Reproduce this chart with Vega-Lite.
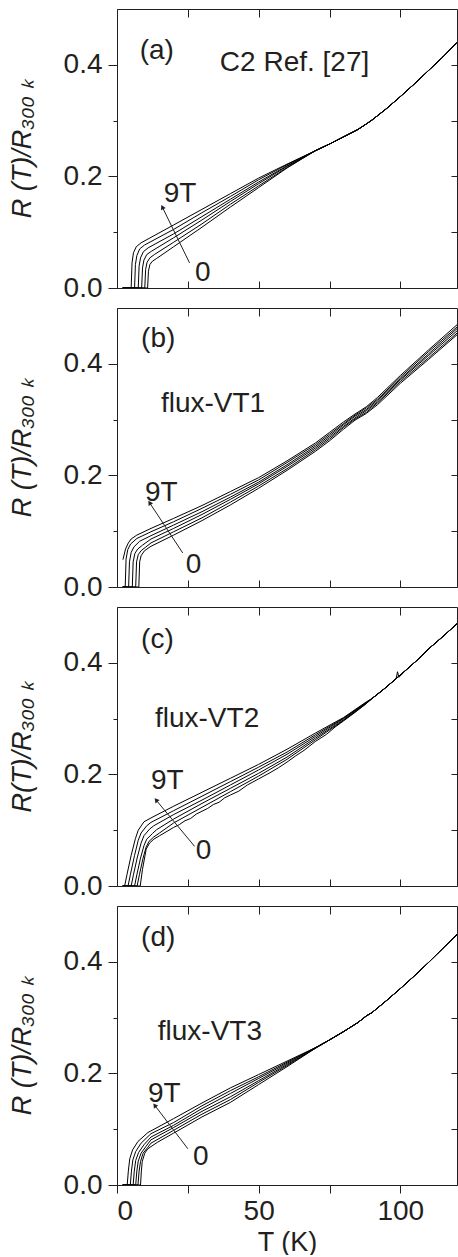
{
"$schema": "https://vega.github.io/schema/vega-lite/v6.json",
"padding": {"left": 8, "top": 8, "right": 0, "bottom": 0},
"spacing": 5,
"datasets": {
"curves": [
{"p":"a","B":0,"T":2,"R":0},{"p":"a","B":0,"T":10.8,"R":0},{"p":"a","B":0,"T":11.1,"R":0.03},{"p":"a","B":0,"T":11.6,"R":0.042},{"p":"a","B":0,"T":12.5,"R":0.048},{"p":"a","B":0,"T":14,"R":0.053},{"p":"a","B":0,"T":20,"R":0.074},{"p":"a","B":0,"T":30,"R":0.109},{"p":"a","B":0,"T":40,"R":0.145},{"p":"a","B":0,"T":50,"R":0.18},{"p":"a","B":0,"T":60,"R":0.215},{"p":"a","B":0,"T":70,"R":0.246},{"p":"a","B":0,"T":75,"R":0.258},{"p":"a","B":0,"T":80,"R":0.271},{"p":"a","B":0,"T":85,"R":0.284},{"p":"a","B":0,"T":88,"R":0.294},{"p":"a","B":0,"T":90,"R":0.301},{"p":"a","B":0,"T":95,"R":0.321},{"p":"a","B":0,"T":100,"R":0.343},{"p":"a","B":0,"T":105,"R":0.366},{"p":"a","B":0,"T":110,"R":0.39},{"p":"a","B":0,"T":115,"R":0.414},{"p":"a","B":0,"T":120,"R":0.44},
{"p":"a","B":1,"T":2,"R":0},{"p":"a","B":1,"T":9.8,"R":0},{"p":"a","B":1,"T":10.1,"R":0.033},{"p":"a","B":1,"T":10.6,"R":0.046},{"p":"a","B":1,"T":11.6,"R":0.054},{"p":"a","B":1,"T":13.2,"R":0.06},{"p":"a","B":1,"T":20,"R":0.082},{"p":"a","B":1,"T":30,"R":0.115},{"p":"a","B":1,"T":40,"R":0.15},{"p":"a","B":1,"T":50,"R":0.183},{"p":"a","B":1,"T":60,"R":0.216},{"p":"a","B":1,"T":70,"R":0.246},{"p":"a","B":1,"T":75,"R":0.258},{"p":"a","B":1,"T":80,"R":0.271},{"p":"a","B":1,"T":85,"R":0.284},{"p":"a","B":1,"T":88,"R":0.294},{"p":"a","B":1,"T":90,"R":0.301},{"p":"a","B":1,"T":95,"R":0.321},{"p":"a","B":1,"T":100,"R":0.343},{"p":"a","B":1,"T":105,"R":0.366},{"p":"a","B":1,"T":110,"R":0.39},{"p":"a","B":1,"T":115,"R":0.414},{"p":"a","B":1,"T":120,"R":0.44},
{"p":"a","B":3,"T":2,"R":0},{"p":"a","B":3,"T":8.7,"R":0},{"p":"a","B":3,"T":9,"R":0.036},{"p":"a","B":3,"T":9.5,"R":0.05},{"p":"a","B":3,"T":10.5,"R":0.06},{"p":"a","B":3,"T":12.2,"R":0.066},{"p":"a","B":3,"T":20,"R":0.09},{"p":"a","B":3,"T":30,"R":0.122},{"p":"a","B":3,"T":40,"R":0.155},{"p":"a","B":3,"T":50,"R":0.187},{"p":"a","B":3,"T":60,"R":0.218},{"p":"a","B":3,"T":70,"R":0.246},{"p":"a","B":3,"T":75,"R":0.258},{"p":"a","B":3,"T":80,"R":0.271},{"p":"a","B":3,"T":85,"R":0.284},{"p":"a","B":3,"T":88,"R":0.294},{"p":"a","B":3,"T":90,"R":0.301},{"p":"a","B":3,"T":95,"R":0.321},{"p":"a","B":3,"T":100,"R":0.343},{"p":"a","B":3,"T":105,"R":0.366},{"p":"a","B":3,"T":110,"R":0.39},{"p":"a","B":3,"T":115,"R":0.414},{"p":"a","B":3,"T":120,"R":0.44},
{"p":"a","B":5,"T":2,"R":0},{"p":"a","B":5,"T":7.5,"R":0},{"p":"a","B":5,"T":7.8,"R":0.039},{"p":"a","B":5,"T":8.3,"R":0.054},{"p":"a","B":5,"T":9.3,"R":0.065},{"p":"a","B":5,"T":11,"R":0.072},{"p":"a","B":5,"T":20,"R":0.097},{"p":"a","B":5,"T":30,"R":0.128},{"p":"a","B":5,"T":40,"R":0.159},{"p":"a","B":5,"T":50,"R":0.19},{"p":"a","B":5,"T":60,"R":0.219},{"p":"a","B":5,"T":70,"R":0.246},{"p":"a","B":5,"T":75,"R":0.258},{"p":"a","B":5,"T":80,"R":0.271},{"p":"a","B":5,"T":85,"R":0.284},{"p":"a","B":5,"T":88,"R":0.294},{"p":"a","B":5,"T":90,"R":0.301},{"p":"a","B":5,"T":95,"R":0.321},{"p":"a","B":5,"T":100,"R":0.343},{"p":"a","B":5,"T":105,"R":0.366},{"p":"a","B":5,"T":110,"R":0.39},{"p":"a","B":5,"T":115,"R":0.414},{"p":"a","B":5,"T":120,"R":0.44},
{"p":"a","B":7,"T":2,"R":0},{"p":"a","B":7,"T":6.2,"R":0},{"p":"a","B":7,"T":6.5,"R":0.042},{"p":"a","B":7,"T":7,"R":0.058},{"p":"a","B":7,"T":8,"R":0.07},{"p":"a","B":7,"T":9.7,"R":0.077},{"p":"a","B":7,"T":20,"R":0.105},{"p":"a","B":7,"T":30,"R":0.135},{"p":"a","B":7,"T":40,"R":0.164},{"p":"a","B":7,"T":50,"R":0.194},{"p":"a","B":7,"T":60,"R":0.221},{"p":"a","B":7,"T":70,"R":0.246},{"p":"a","B":7,"T":75,"R":0.258},{"p":"a","B":7,"T":80,"R":0.271},{"p":"a","B":7,"T":85,"R":0.284},{"p":"a","B":7,"T":88,"R":0.294},{"p":"a","B":7,"T":90,"R":0.301},{"p":"a","B":7,"T":95,"R":0.321},{"p":"a","B":7,"T":100,"R":0.343},{"p":"a","B":7,"T":105,"R":0.366},{"p":"a","B":7,"T":110,"R":0.39},{"p":"a","B":7,"T":115,"R":0.414},{"p":"a","B":7,"T":120,"R":0.44},
{"p":"a","B":9,"T":2,"R":0},{"p":"a","B":9,"T":5,"R":0},{"p":"a","B":9,"T":5.3,"R":0.045},{"p":"a","B":9,"T":5.8,"R":0.063},{"p":"a","B":9,"T":6.8,"R":0.074},{"p":"a","B":9,"T":8.5,"R":0.081},{"p":"a","B":9,"T":20,"R":0.113},{"p":"a","B":9,"T":30,"R":0.141},{"p":"a","B":9,"T":40,"R":0.169},{"p":"a","B":9,"T":50,"R":0.197},{"p":"a","B":9,"T":60,"R":0.222},{"p":"a","B":9,"T":70,"R":0.246},{"p":"a","B":9,"T":75,"R":0.258},{"p":"a","B":9,"T":80,"R":0.271},{"p":"a","B":9,"T":85,"R":0.284},{"p":"a","B":9,"T":88,"R":0.294},{"p":"a","B":9,"T":90,"R":0.301},{"p":"a","B":9,"T":95,"R":0.321},{"p":"a","B":9,"T":100,"R":0.343},{"p":"a","B":9,"T":105,"R":0.366},{"p":"a","B":9,"T":110,"R":0.39},{"p":"a","B":9,"T":115,"R":0.414},{"p":"a","B":9,"T":120,"R":0.44},

{"p":"b","B":9,"T":2.1,"R":0.049},{"p":"b","B":9,"T":3,"R":0.068},{"p":"b","B":9,"T":4,"R":0.079},{"p":"b","B":9,"T":5,"R":0.086},{"p":"b","B":9,"T":7,"R":0.093},{"p":"b","B":9,"T":12,"R":0.105},{"p":"b","B":9,"T":20,"R":0.123},{"p":"b","B":9,"T":30,"R":0.146},{"p":"b","B":9,"T":40,"R":0.171},{"p":"b","B":9,"T":50,"R":0.196},{"p":"b","B":9,"T":60,"R":0.226},{"p":"b","B":9,"T":70,"R":0.258},{"p":"b","B":9,"T":75,"R":0.277},{"p":"b","B":9,"T":80,"R":0.296},{"p":"b","B":9,"T":84,"R":0.31},{"p":"b","B":9,"T":88,"R":0.323},{"p":"b","B":9,"T":92,"R":0.34},{"p":"b","B":9,"T":100,"R":0.379},{"p":"b","B":9,"T":110,"R":0.425},{"p":"b","B":9,"T":120,"R":0.47},
{"p":"b","B":7,"T":2,"R":0},{"p":"b","B":7,"T":2.9,"R":0},{"p":"b","B":7,"T":3.2,"R":0.05},{"p":"b","B":7,"T":3.8,"R":0.067},{"p":"b","B":7,"T":4.8,"R":0.077},{"p":"b","B":7,"T":7,"R":0.087},{"p":"b","B":7,"T":12,"R":0.099},{"p":"b","B":7,"T":20,"R":0.117},{"p":"b","B":7,"T":30,"R":0.141},{"p":"b","B":7,"T":40,"R":0.166},{"p":"b","B":7,"T":50,"R":0.192},{"p":"b","B":7,"T":60,"R":0.223},{"p":"b","B":7,"T":70,"R":0.255},{"p":"b","B":7,"T":75,"R":0.274},{"p":"b","B":7,"T":80,"R":0.293},{"p":"b","B":7,"T":84,"R":0.308},{"p":"b","B":7,"T":88,"R":0.321},{"p":"b","B":7,"T":92,"R":0.337},{"p":"b","B":7,"T":100,"R":0.376},{"p":"b","B":7,"T":110,"R":0.422},{"p":"b","B":7,"T":120,"R":0.466},
{"p":"b","B":5,"T":2,"R":0},{"p":"b","B":5,"T":4.1,"R":0},{"p":"b","B":5,"T":4.4,"R":0.045},{"p":"b","B":5,"T":5,"R":0.062},{"p":"b","B":5,"T":6,"R":0.072},{"p":"b","B":5,"T":8,"R":0.082},{"p":"b","B":5,"T":12,"R":0.092},{"p":"b","B":5,"T":20,"R":0.111},{"p":"b","B":5,"T":30,"R":0.135},{"p":"b","B":5,"T":40,"R":0.161},{"p":"b","B":5,"T":50,"R":0.188},{"p":"b","B":5,"T":60,"R":0.219},{"p":"b","B":5,"T":70,"R":0.252},{"p":"b","B":5,"T":75,"R":0.271},{"p":"b","B":5,"T":80,"R":0.291},{"p":"b","B":5,"T":84,"R":0.306},{"p":"b","B":5,"T":88,"R":0.318},{"p":"b","B":5,"T":92,"R":0.335},{"p":"b","B":5,"T":100,"R":0.373},{"p":"b","B":5,"T":110,"R":0.418},{"p":"b","B":5,"T":120,"R":0.463},
{"p":"b","B":3,"T":2,"R":0},{"p":"b","B":3,"T":5.4,"R":0},{"p":"b","B":3,"T":5.7,"R":0.045},{"p":"b","B":3,"T":6.3,"R":0.06},{"p":"b","B":3,"T":7.3,"R":0.068},{"p":"b","B":3,"T":9,"R":0.075},{"p":"b","B":3,"T":12,"R":0.086},{"p":"b","B":3,"T":20,"R":0.105},{"p":"b","B":3,"T":30,"R":0.13},{"p":"b","B":3,"T":40,"R":0.157},{"p":"b","B":3,"T":50,"R":0.185},{"p":"b","B":3,"T":60,"R":0.216},{"p":"b","B":3,"T":70,"R":0.249},{"p":"b","B":3,"T":75,"R":0.268},{"p":"b","B":3,"T":80,"R":0.288},{"p":"b","B":3,"T":84,"R":0.303},{"p":"b","B":3,"T":88,"R":0.316},{"p":"b","B":3,"T":92,"R":0.332},{"p":"b","B":3,"T":100,"R":0.371},{"p":"b","B":3,"T":110,"R":0.415},{"p":"b","B":3,"T":120,"R":0.459},
{"p":"b","B":1,"T":2,"R":0},{"p":"b","B":1,"T":6.6,"R":0},{"p":"b","B":1,"T":6.9,"R":0.045},{"p":"b","B":1,"T":7.5,"R":0.058},{"p":"b","B":1,"T":8.5,"R":0.065},{"p":"b","B":1,"T":10,"R":0.071},{"p":"b","B":1,"T":12,"R":0.079},{"p":"b","B":1,"T":20,"R":0.099},{"p":"b","B":1,"T":30,"R":0.124},{"p":"b","B":1,"T":40,"R":0.152},{"p":"b","B":1,"T":50,"R":0.181},{"p":"b","B":1,"T":60,"R":0.212},{"p":"b","B":1,"T":70,"R":0.246},{"p":"b","B":1,"T":75,"R":0.265},{"p":"b","B":1,"T":80,"R":0.286},{"p":"b","B":1,"T":84,"R":0.301},{"p":"b","B":1,"T":88,"R":0.313},{"p":"b","B":1,"T":92,"R":0.33},{"p":"b","B":1,"T":100,"R":0.368},{"p":"b","B":1,"T":110,"R":0.411},{"p":"b","B":1,"T":120,"R":0.455},
{"p":"b","B":0,"T":2,"R":0},{"p":"b","B":0,"T":7.7,"R":0},{"p":"b","B":0,"T":8,"R":0.045},{"p":"b","B":0,"T":8.5,"R":0.056},{"p":"b","B":0,"T":9.7,"R":0.065},{"p":"b","B":0,"T":12,"R":0.073},{"p":"b","B":0,"T":20,"R":0.093},{"p":"b","B":0,"T":30,"R":0.119},{"p":"b","B":0,"T":40,"R":0.147},{"p":"b","B":0,"T":50,"R":0.177},{"p":"b","B":0,"T":60,"R":0.209},{"p":"b","B":0,"T":70,"R":0.243},{"p":"b","B":0,"T":75,"R":0.262},{"p":"b","B":0,"T":80,"R":0.283},{"p":"b","B":0,"T":84,"R":0.299},{"p":"b","B":0,"T":88,"R":0.311},{"p":"b","B":0,"T":92,"R":0.327},{"p":"b","B":0,"T":100,"R":0.365},{"p":"b","B":0,"T":110,"R":0.408},{"p":"b","B":0,"T":120,"R":0.452},

{"p":"c","B":9,"T":2,"R":0},{"p":"c","B":9,"T":2.7,"R":0},{"p":"c","B":9,"T":3.5,"R":0.02},{"p":"c","B":9,"T":5,"R":0.055},{"p":"c","B":9,"T":6.5,"R":0.085},{"p":"c","B":9,"T":7.5,"R":0.1},{"p":"c","B":9,"T":9.5,"R":0.115},{"p":"c","B":9,"T":12,"R":0.122},{"p":"c","B":9,"T":20,"R":0.143},{"p":"c","B":9,"T":30,"R":0.168},{"p":"c","B":9,"T":40,"R":0.193},{"p":"c","B":9,"T":50,"R":0.218},{"p":"c","B":9,"T":60,"R":0.245},{"p":"c","B":9,"T":70,"R":0.274},{"p":"c","B":9,"T":80,"R":0.302},{"p":"c","B":9,"T":88,"R":0.33},{"p":"c","B":9,"T":90,"R":0.336},{"p":"c","B":9,"T":94,"R":0.352},{"p":"c","B":9,"T":97,"R":0.365},{"p":"c","B":9,"T":98.5,"R":0.371},{"p":"c","B":9,"T":99,"R":0.384},{"p":"c","B":9,"T":99.5,"R":0.374},{"p":"c","B":9,"T":102,"R":0.387},{"p":"c","B":9,"T":106,"R":0.405},{"p":"c","B":9,"T":110,"R":0.425},{"p":"c","B":9,"T":115,"R":0.447},{"p":"c","B":9,"T":120,"R":0.47},
{"p":"c","B":7,"T":2,"R":0},{"p":"c","B":7,"T":3.9,"R":0},{"p":"c","B":7,"T":4.7,"R":0.02},{"p":"c","B":7,"T":6.2,"R":0.055},{"p":"c","B":7,"T":7.5,"R":0.082},{"p":"c","B":7,"T":8.5,"R":0.095},{"p":"c","B":7,"T":10.5,"R":0.108},{"p":"c","B":7,"T":12,"R":0.114},{"p":"c","B":7,"T":20,"R":0.135},{"p":"c","B":7,"T":30,"R":0.161},{"p":"c","B":7,"T":40,"R":0.187},{"p":"c","B":7,"T":50,"R":0.213},{"p":"c","B":7,"T":60,"R":0.24},{"p":"c","B":7,"T":70,"R":0.271},{"p":"c","B":7,"T":80,"R":0.301},{"p":"c","B":7,"T":88,"R":0.329},{"p":"c","B":7,"T":90,"R":0.336},{"p":"c","B":7,"T":94,"R":0.352},{"p":"c","B":7,"T":97,"R":0.365},{"p":"c","B":7,"T":102,"R":0.387},{"p":"c","B":7,"T":106,"R":0.405},{"p":"c","B":7,"T":110,"R":0.425},{"p":"c","B":7,"T":115,"R":0.447},{"p":"c","B":7,"T":120,"R":0.47},
{"p":"c","B":5,"T":2,"R":0},{"p":"c","B":5,"T":5,"R":0},{"p":"c","B":5,"T":5.8,"R":0.02},{"p":"c","B":5,"T":7.2,"R":0.052},{"p":"c","B":5,"T":8.5,"R":0.077},{"p":"c","B":5,"T":9.5,"R":0.09},{"p":"c","B":5,"T":11.5,"R":0.102},{"p":"c","B":5,"T":13,"R":0.108},{"p":"c","B":5,"T":20,"R":0.128},{"p":"c","B":5,"T":30,"R":0.154},{"p":"c","B":5,"T":40,"R":0.181},{"p":"c","B":5,"T":50,"R":0.208},{"p":"c","B":5,"T":60,"R":0.236},{"p":"c","B":5,"T":70,"R":0.268},{"p":"c","B":5,"T":80,"R":0.3},{"p":"c","B":5,"T":88,"R":0.328},{"p":"c","B":5,"T":90,"R":0.336},{"p":"c","B":5,"T":94,"R":0.352},{"p":"c","B":5,"T":97,"R":0.365},{"p":"c","B":5,"T":102,"R":0.387},{"p":"c","B":5,"T":106,"R":0.405},{"p":"c","B":5,"T":110,"R":0.425},{"p":"c","B":5,"T":115,"R":0.447},{"p":"c","B":5,"T":120,"R":0.47},
{"p":"c","B":3,"T":2,"R":0},{"p":"c","B":3,"T":6.2,"R":0},{"p":"c","B":3,"T":7,"R":0.02},{"p":"c","B":3,"T":8.3,"R":0.05},{"p":"c","B":3,"T":9.5,"R":0.072},{"p":"c","B":3,"T":10.5,"R":0.084},{"p":"c","B":3,"T":12.5,"R":0.094},{"p":"c","B":3,"T":14,"R":0.101},{"p":"c","B":3,"T":20,"R":0.12},{"p":"c","B":3,"T":30,"R":0.148},{"p":"c","B":3,"T":40,"R":0.175},{"p":"c","B":3,"T":50,"R":0.202},{"p":"c","B":3,"T":60,"R":0.231},{"p":"c","B":3,"T":70,"R":0.265},{"p":"c","B":3,"T":80,"R":0.298},{"p":"c","B":3,"T":88,"R":0.328},{"p":"c","B":3,"T":90,"R":0.336},{"p":"c","B":3,"T":94,"R":0.352},{"p":"c","B":3,"T":97,"R":0.365},{"p":"c","B":3,"T":102,"R":0.387},{"p":"c","B":3,"T":106,"R":0.405},{"p":"c","B":3,"T":110,"R":0.425},{"p":"c","B":3,"T":115,"R":0.447},{"p":"c","B":3,"T":120,"R":0.47},
{"p":"c","B":1,"T":2,"R":0},{"p":"c","B":1,"T":7.1,"R":0},{"p":"c","B":1,"T":7.9,"R":0.02},{"p":"c","B":1,"T":9.2,"R":0.05},{"p":"c","B":1,"T":10.3,"R":0.07},{"p":"c","B":1,"T":11.3,"R":0.08},{"p":"c","B":1,"T":13,"R":0.088},{"p":"c","B":1,"T":15,"R":0.095},{"p":"c","B":1,"T":20,"R":0.113},{"p":"c","B":1,"T":30,"R":0.141},{"p":"c","B":1,"T":40,"R":0.169},{"p":"c","B":1,"T":50,"R":0.197},{"p":"c","B":1,"T":60,"R":0.227},{"p":"c","B":1,"T":70,"R":0.262},{"p":"c","B":1,"T":80,"R":0.297},{"p":"c","B":1,"T":88,"R":0.327},{"p":"c","B":1,"T":90,"R":0.336},{"p":"c","B":1,"T":94,"R":0.352},{"p":"c","B":1,"T":97,"R":0.365},{"p":"c","B":1,"T":102,"R":0.387},{"p":"c","B":1,"T":106,"R":0.405},{"p":"c","B":1,"T":110,"R":0.425},{"p":"c","B":1,"T":115,"R":0.447},{"p":"c","B":1,"T":120,"R":0.47},
{"p":"c","B":0,"T":2,"R":0},{"p":"c","B":0,"T":8.2,"R":0},{"p":"c","B":0,"T":9,"R":0.03},{"p":"c","B":0,"T":10.3,"R":0.066},{"p":"c","B":0,"T":11.5,"R":0.077},{"p":"c","B":0,"T":13,"R":0.084},{"p":"c","B":0,"T":15,"R":0.09},{"p":"c","B":0,"T":18,"R":0.099},{"p":"c","B":0,"T":20,"R":0.105},{"p":"c","B":0,"T":22,"R":0.11},{"p":"c","B":0,"T":24,"R":0.117},{"p":"c","B":0,"T":26,"R":0.121},{"p":"c","B":0,"T":28,"R":0.129},{"p":"c","B":0,"T":30,"R":0.134},{"p":"c","B":0,"T":32,"R":0.139},{"p":"c","B":0,"T":34,"R":0.146},{"p":"c","B":0,"T":36,"R":0.15},{"p":"c","B":0,"T":38,"R":0.158},{"p":"c","B":0,"T":40,"R":0.163},{"p":"c","B":0,"T":43,"R":0.17},{"p":"c","B":0,"T":46,"R":0.181},{"p":"c","B":0,"T":50,"R":0.192},{"p":"c","B":0,"T":54,"R":0.203},{"p":"c","B":0,"T":57,"R":0.212},{"p":"c","B":0,"T":60,"R":0.222},{"p":"c","B":0,"T":63,"R":0.233},{"p":"c","B":0,"T":66,"R":0.243},{"p":"c","B":0,"T":70,"R":0.259},{"p":"c","B":0,"T":74,"R":0.272},{"p":"c","B":0,"T":77,"R":0.285},{"p":"c","B":0,"T":80,"R":0.296},{"p":"c","B":0,"T":84,"R":0.311},{"p":"c","B":0,"T":88,"R":0.327},{"p":"c","B":0,"T":90,"R":0.336},{"p":"c","B":0,"T":94,"R":0.352},{"p":"c","B":0,"T":97,"R":0.365},{"p":"c","B":0,"T":102,"R":0.387},{"p":"c","B":0,"T":106,"R":0.405},{"p":"c","B":0,"T":110,"R":0.425},{"p":"c","B":0,"T":115,"R":0.447},{"p":"c","B":0,"T":120,"R":0.47},

{"p":"d","B":9,"T":2,"R":0},{"p":"d","B":9,"T":3.6,"R":0},{"p":"d","B":9,"T":4,"R":0.025},{"p":"d","B":9,"T":4.5,"R":0.047},{"p":"d","B":9,"T":5.5,"R":0.063},{"p":"d","B":9,"T":7.4,"R":0.078},{"p":"d","B":9,"T":10.9,"R":0.094},{"p":"d","B":9,"T":20,"R":0.119},{"p":"d","B":9,"T":30,"R":0.147},{"p":"d","B":9,"T":40,"R":0.174},{"p":"d","B":9,"T":50,"R":0.198},{"p":"d","B":9,"T":60,"R":0.222},{"p":"d","B":9,"T":70,"R":0.246},{"p":"d","B":9,"T":75,"R":0.26},{"p":"d","B":9,"T":80,"R":0.275},{"p":"d","B":9,"T":85,"R":0.291},{"p":"d","B":9,"T":88,"R":0.303},{"p":"d","B":9,"T":90,"R":0.309},{"p":"d","B":9,"T":95,"R":0.33},{"p":"d","B":9,"T":100,"R":0.352},{"p":"d","B":9,"T":105,"R":0.375},{"p":"d","B":9,"T":110,"R":0.399},{"p":"d","B":9,"T":115,"R":0.424},{"p":"d","B":9,"T":120,"R":0.449},
{"p":"d","B":7,"T":2,"R":0},{"p":"d","B":7,"T":4.7,"R":0},{"p":"d","B":7,"T":5.1,"R":0.025},{"p":"d","B":7,"T":5.6,"R":0.045},{"p":"d","B":7,"T":6.6,"R":0.06},{"p":"d","B":7,"T":8.5,"R":0.075},{"p":"d","B":7,"T":12,"R":0.092},{"p":"d","B":7,"T":20,"R":0.112},{"p":"d","B":7,"T":30,"R":0.142},{"p":"d","B":7,"T":40,"R":0.169},{"p":"d","B":7,"T":50,"R":0.194},{"p":"d","B":7,"T":60,"R":0.22},{"p":"d","B":7,"T":70,"R":0.246},{"p":"d","B":7,"T":75,"R":0.26},{"p":"d","B":7,"T":80,"R":0.275},{"p":"d","B":7,"T":85,"R":0.291},{"p":"d","B":7,"T":88,"R":0.303},{"p":"d","B":7,"T":90,"R":0.309},{"p":"d","B":7,"T":95,"R":0.33},{"p":"d","B":7,"T":100,"R":0.352},{"p":"d","B":7,"T":105,"R":0.375},{"p":"d","B":7,"T":110,"R":0.399},{"p":"d","B":7,"T":115,"R":0.424},{"p":"d","B":7,"T":120,"R":0.449},
{"p":"d","B":5,"T":2,"R":0},{"p":"d","B":5,"T":5.7,"R":0},{"p":"d","B":5,"T":6.1,"R":0.025},{"p":"d","B":5,"T":6.6,"R":0.044},{"p":"d","B":5,"T":7.6,"R":0.058},{"p":"d","B":5,"T":9.5,"R":0.072},{"p":"d","B":5,"T":12,"R":0.086},{"p":"d","B":5,"T":20,"R":0.107},{"p":"d","B":5,"T":30,"R":0.137},{"p":"d","B":5,"T":40,"R":0.164},{"p":"d","B":5,"T":50,"R":0.191},{"p":"d","B":5,"T":60,"R":0.218},{"p":"d","B":5,"T":70,"R":0.246},{"p":"d","B":5,"T":75,"R":0.26},{"p":"d","B":5,"T":80,"R":0.275},{"p":"d","B":5,"T":85,"R":0.291},{"p":"d","B":5,"T":88,"R":0.303},{"p":"d","B":5,"T":90,"R":0.309},{"p":"d","B":5,"T":95,"R":0.33},{"p":"d","B":5,"T":100,"R":0.352},{"p":"d","B":5,"T":105,"R":0.375},{"p":"d","B":5,"T":110,"R":0.399},{"p":"d","B":5,"T":115,"R":0.424},{"p":"d","B":5,"T":120,"R":0.449},
{"p":"d","B":3,"T":2,"R":0},{"p":"d","B":3,"T":6.6,"R":0},{"p":"d","B":3,"T":7,"R":0.025},{"p":"d","B":3,"T":7.5,"R":0.043},{"p":"d","B":3,"T":8.5,"R":0.057},{"p":"d","B":3,"T":10.2,"R":0.069},{"p":"d","B":3,"T":12,"R":0.081},{"p":"d","B":3,"T":20,"R":0.103},{"p":"d","B":3,"T":30,"R":0.132},{"p":"d","B":3,"T":40,"R":0.158},{"p":"d","B":3,"T":50,"R":0.187},{"p":"d","B":3,"T":60,"R":0.216},{"p":"d","B":3,"T":70,"R":0.245},{"p":"d","B":3,"T":75,"R":0.26},{"p":"d","B":3,"T":80,"R":0.275},{"p":"d","B":3,"T":85,"R":0.291},{"p":"d","B":3,"T":88,"R":0.303},{"p":"d","B":3,"T":90,"R":0.309},{"p":"d","B":3,"T":95,"R":0.33},{"p":"d","B":3,"T":100,"R":0.352},{"p":"d","B":3,"T":105,"R":0.375},{"p":"d","B":3,"T":110,"R":0.399},{"p":"d","B":3,"T":115,"R":0.424},{"p":"d","B":3,"T":120,"R":0.449},
{"p":"d","B":1,"T":2,"R":0},{"p":"d","B":1,"T":7.4,"R":0},{"p":"d","B":1,"T":7.8,"R":0.025},{"p":"d","B":1,"T":8.3,"R":0.042},{"p":"d","B":1,"T":9.2,"R":0.057},{"p":"d","B":1,"T":10.8,"R":0.067},{"p":"d","B":1,"T":12,"R":0.075},{"p":"d","B":1,"T":20,"R":0.098},{"p":"d","B":1,"T":30,"R":0.127},{"p":"d","B":1,"T":40,"R":0.153},{"p":"d","B":1,"T":50,"R":0.184},{"p":"d","B":1,"T":60,"R":0.214},{"p":"d","B":1,"T":70,"R":0.245},{"p":"d","B":1,"T":75,"R":0.26},{"p":"d","B":1,"T":80,"R":0.275},{"p":"d","B":1,"T":85,"R":0.291},{"p":"d","B":1,"T":88,"R":0.303},{"p":"d","B":1,"T":90,"R":0.309},{"p":"d","B":1,"T":95,"R":0.33},{"p":"d","B":1,"T":100,"R":0.352},{"p":"d","B":1,"T":105,"R":0.375},{"p":"d","B":1,"T":110,"R":0.399},{"p":"d","B":1,"T":115,"R":0.424},{"p":"d","B":1,"T":120,"R":0.449},
{"p":"d","B":0,"T":2,"R":0},{"p":"d","B":0,"T":8.3,"R":0},{"p":"d","B":0,"T":8.6,"R":0.025},{"p":"d","B":0,"T":8.9,"R":0.042},{"p":"d","B":0,"T":9.8,"R":0.057},{"p":"d","B":0,"T":10.9,"R":0.065},{"p":"d","B":0,"T":14.4,"R":0.077},{"p":"d","B":0,"T":20,"R":0.093},{"p":"d","B":0,"T":30,"R":0.122},{"p":"d","B":0,"T":40,"R":0.148},{"p":"d","B":0,"T":50,"R":0.18},{"p":"d","B":0,"T":60,"R":0.212},{"p":"d","B":0,"T":70,"R":0.245},{"p":"d","B":0,"T":75,"R":0.26},{"p":"d","B":0,"T":80,"R":0.275},{"p":"d","B":0,"T":85,"R":0.291},{"p":"d","B":0,"T":88,"R":0.303},{"p":"d","B":0,"T":90,"R":0.309},{"p":"d","B":0,"T":95,"R":0.33},{"p":"d","B":0,"T":100,"R":0.352},{"p":"d","B":0,"T":105,"R":0.375},{"p":"d","B":0,"T":110,"R":0.399},{"p":"d","B":0,"T":115,"R":0.424},{"p":"d","B":0,"T":120,"R":0.449}
],
"ann": [
{"p":"a","T":8,"R":0.425,"txt":"(a)"},{"p":"a","T":36.3,"R":0.403,"txt":"C2 Ref. [27]"},{"p":"a","T":16.5,"R":0.169,"txt":"9T"},{"p":"a","T":27.5,"R":0.026,"txt":"0"},
{"p":"b","T":8.5,"R":0.444,"txt":"(b)"},{"p":"b","T":15.5,"R":0.328,"txt":"flux-VT1"},{"p":"b","T":9.9,"R":0.168,"txt":"9T"},{"p":"b","T":24.3,"R":0.039,"txt":"0"},
{"p":"c","T":8.5,"R":0.441,"txt":"(c)"},{"p":"c","T":13.4,"R":0.299,"txt":"flux-VT2"},{"p":"c","T":12,"R":0.188,"txt":"9T"},{"p":"c","T":27.8,"R":0.063,"txt":"0"},
{"p":"d","T":8.5,"R":0.443,"txt":"(d)"},{"p":"d","T":14.4,"R":0.274,"txt":"flux-VT3"},{"p":"d","T":10.9,"R":0.163,"txt":"9T"},{"p":"d","T":26.8,"R":0.05,"txt":"0"}
],
"arrows": [
{"p":"a","T1":25.6,"R1":0.045,"T2":16.0,"R2":0.145},
{"p":"b","T1":23.2,"R1":0.061,"T2":11.5,"R2":0.151},
{"p":"c","T1":27.4,"R1":0.071,"T2":13.8,"R2":0.154},
{"p":"d","T1":25.0,"R1":0.065,"T2":13.3,"R2":0.143}
]
},
"vconcat": [
{"width":340,"height":279,"resolve":{"axis":{"x":"independent","y":"independent"}},
"layer":[
{"data":{"name":"curves"},"transform":[{"filter":"datum.p=='a'"}],
"mark":{"type":"line","color":"#000000","strokeWidth":1,"clip":true},
"encoding":{
"x":{"field":"T","type":"quantitative","scale":{"domain":[0,120],"nice":false},"axis":{"orient":"bottom","values":[0,25,50,75,100],"labels":false,"tickSize":-7,"title":null}},
"y":{"field":"R","type":"quantitative","scale":{"domain":[0,0.5],"nice":false},"axis":{"orient":"left","values":[0,0.1,0.2,0.3,0.4],"labelExpr":"abs(round(datum.value*10)) % 2 == 0 ? format(datum.value, '.1f') : ''","tickSize":{"condition":{"test":"abs(round(datum.value*10)) % 2 == 0","value":9},"value":4},"labelPadding":6,"title":"R (T)/R₃₀₀ ₖ","titleFontStyle":"italic","titlePadding":27}},
"detail":{"field":"B","type":"nominal"}}},
{"data":{"name":"ann"},"transform":[{"filter":"datum.p=='a'"}],
"mark":{"type":"text","align":"left","baseline":"middle","fontSize":28,"font":"Liberation Sans","color":"#231f20"},
"encoding":{
"x":{"field":"T","type":"quantitative","scale":{"domain":[0,120],"nice":false},"axis":{"orient":"top","values":[0,25,50,75,100],"labels":false,"tickSize":-8,"title":null}},
"y":{"field":"R","type":"quantitative","scale":{"domain":[0,0.5],"nice":false},"axis":{"orient":"right","values":[0,0.1,0.2,0.3,0.4],"labels":false,"tickSize":-6,"title":null}},
"text":{"field":"txt"}}},
{"data":{"name":"arrows"},"transform":[{"filter":"datum.p=='a'"}],
"mark":{"type":"rule","color":"#231f20","strokeWidth":1},
"encoding":{"x":{"field":"T1","type":"quantitative","scale":{"domain":[0,120],"nice":false},"axis":null},"y":{"field":"R1","type":"quantitative","scale":{"domain":[0,0.5],"nice":false},"axis":null},"x2":{"field":"T2"},"y2":{"field":"R2"}}},
{"data":{"name":"arrows"},"transform":[{"filter":"datum.p=='a'"}],
"mark":{"type":"point","shape":"triangle-up","filled":true,"size":28,"color":"#231f20","opacity":1,"angle":-26},
"encoding":{"x":{"field":"T2","type":"quantitative","scale":{"domain":[0,120],"nice":false},"axis":null},"y":{"field":"R2","type":"quantitative","scale":{"domain":[0,0.5],"nice":false},"axis":null}}}
]},
{"width":340,"height":279,"resolve":{"axis":{"x":"independent","y":"independent"}},
"layer":[
{"data":{"name":"curves"},"transform":[{"filter":"datum.p=='b'"}],
"mark":{"type":"line","color":"#000000","strokeWidth":1,"clip":true},
"encoding":{
"x":{"field":"T","type":"quantitative","scale":{"domain":[0,120],"nice":false},"axis":{"orient":"bottom","values":[0,25,50,75,100],"labels":false,"tickSize":-7,"title":null}},
"y":{"field":"R","type":"quantitative","scale":{"domain":[0,0.5],"nice":false},"axis":{"orient":"left","values":[0,0.1,0.2,0.3,0.4],"labelExpr":"abs(round(datum.value*10)) % 2 == 0 ? format(datum.value, '.1f') : ''","tickSize":{"condition":{"test":"abs(round(datum.value*10)) % 2 == 0","value":9},"value":4},"labelPadding":6,"title":"R (T)/R₃₀₀ ₖ","titleFontStyle":"italic","titlePadding":27}},
"detail":{"field":"B","type":"nominal"}}},
{"data":{"name":"ann"},"transform":[{"filter":"datum.p=='b'"}],
"mark":{"type":"text","align":"left","baseline":"middle","fontSize":28,"font":"Liberation Sans","color":"#231f20"},
"encoding":{
"x":{"field":"T","type":"quantitative","scale":{"domain":[0,120],"nice":false},"axis":{"orient":"top","values":[0,25,50,75,100],"labels":false,"tickSize":-8,"title":null}},
"y":{"field":"R","type":"quantitative","scale":{"domain":[0,0.5],"nice":false},"axis":{"orient":"right","values":[0,0.1,0.2,0.3,0.4],"labels":false,"tickSize":-6,"title":null}},
"text":{"field":"txt"}}},
{"data":{"name":"arrows"},"transform":[{"filter":"datum.p=='b'"}],
"mark":{"type":"rule","color":"#231f20","strokeWidth":1},
"encoding":{"x":{"field":"T1","type":"quantitative","scale":{"domain":[0,120],"nice":false},"axis":null},"y":{"field":"R1","type":"quantitative","scale":{"domain":[0,0.5],"nice":false},"axis":null},"x2":{"field":"T2"},"y2":{"field":"R2"}}},
{"data":{"name":"arrows"},"transform":[{"filter":"datum.p=='b'"}],
"mark":{"type":"point","shape":"triangle-up","filled":true,"size":28,"color":"#231f20","opacity":1,"angle":-34},
"encoding":{"x":{"field":"T2","type":"quantitative","scale":{"domain":[0,120],"nice":false},"axis":null},"y":{"field":"R2","type":"quantitative","scale":{"domain":[0,0.5],"nice":false},"axis":null}}}
]},
{"width":340,"height":279,"resolve":{"axis":{"x":"independent","y":"independent"}},
"layer":[
{"data":{"name":"curves"},"transform":[{"filter":"datum.p=='c'"}],
"mark":{"type":"line","color":"#000000","strokeWidth":1,"clip":true},
"encoding":{
"x":{"field":"T","type":"quantitative","scale":{"domain":[0,120],"nice":false},"axis":{"orient":"bottom","values":[0,25,50,75,100],"labels":false,"tickSize":-7,"title":null}},
"y":{"field":"R","type":"quantitative","scale":{"domain":[0,0.5],"nice":false},"axis":{"orient":"left","values":[0,0.1,0.2,0.3,0.4],"labelExpr":"abs(round(datum.value*10)) % 2 == 0 ? format(datum.value, '.1f') : ''","tickSize":{"condition":{"test":"abs(round(datum.value*10)) % 2 == 0","value":9},"value":4},"labelPadding":6,"title":"R(T)/R₃₀₀ ₖ","titleFontStyle":"italic","titlePadding":27}},
"detail":{"field":"B","type":"nominal"}}},
{"data":{"name":"ann"},"transform":[{"filter":"datum.p=='c'"}],
"mark":{"type":"text","align":"left","baseline":"middle","fontSize":28,"font":"Liberation Sans","color":"#231f20"},
"encoding":{
"x":{"field":"T","type":"quantitative","scale":{"domain":[0,120],"nice":false},"axis":{"orient":"top","values":[0,25,50,75,100],"labels":false,"tickSize":-8,"title":null}},
"y":{"field":"R","type":"quantitative","scale":{"domain":[0,0.5],"nice":false},"axis":{"orient":"right","values":[0,0.1,0.2,0.3,0.4],"labels":false,"tickSize":-6,"title":null}},
"text":{"field":"txt"}}},
{"data":{"name":"arrows"},"transform":[{"filter":"datum.p=='c'"}],
"mark":{"type":"rule","color":"#231f20","strokeWidth":1},
"encoding":{"x":{"field":"T1","type":"quantitative","scale":{"domain":[0,120],"nice":false},"axis":null},"y":{"field":"R1","type":"quantitative","scale":{"domain":[0,0.5],"nice":false},"axis":null},"x2":{"field":"T2"},"y2":{"field":"R2"}}},
{"data":{"name":"arrows"},"transform":[{"filter":"datum.p=='c'"}],
"mark":{"type":"point","shape":"triangle-up","filled":true,"size":28,"color":"#231f20","opacity":1,"angle":-40},
"encoding":{"x":{"field":"T2","type":"quantitative","scale":{"domain":[0,120],"nice":false},"axis":null},"y":{"field":"R2","type":"quantitative","scale":{"domain":[0,0.5],"nice":false},"axis":null}}}
]},
{"width":340,"height":279,"resolve":{"axis":{"x":"independent","y":"independent"}},
"layer":[
{"data":{"name":"curves"},"transform":[{"filter":"datum.p=='d'"}],
"mark":{"type":"line","color":"#000000","strokeWidth":1,"clip":true},
"encoding":{
"x":{"field":"T","type":"quantitative","scale":{"domain":[0,120],"nice":false},"axis":{"orient":"bottom","values":[0,25,50,75,100],"labelExpr":"datum.value % 50 == 0 ? datum.label : ''","tickSize":8,"labelPadding":4,"title":"T (K)","titlePadding":4}},
"y":{"field":"R","type":"quantitative","scale":{"domain":[0,0.5],"nice":false},"axis":{"orient":"left","values":[0,0.1,0.2,0.3,0.4],"labelExpr":"abs(round(datum.value*10)) % 2 == 0 ? format(datum.value, '.1f') : ''","tickSize":{"condition":{"test":"abs(round(datum.value*10)) % 2 == 0","value":9},"value":4},"labelPadding":6,"title":"R (T)/R₃₀₀ ₖ","titleFontStyle":"italic","titlePadding":27}},
"detail":{"field":"B","type":"nominal"}}},
{"data":{"name":"ann"},"transform":[{"filter":"datum.p=='d'"}],
"mark":{"type":"text","align":"left","baseline":"middle","fontSize":28,"font":"Liberation Sans","color":"#231f20"},
"encoding":{
"x":{"field":"T","type":"quantitative","scale":{"domain":[0,120],"nice":false},"axis":{"orient":"top","values":[0,25,50,75,100],"labels":false,"tickSize":-8,"title":null}},
"y":{"field":"R","type":"quantitative","scale":{"domain":[0,0.5],"nice":false},"axis":{"orient":"right","values":[0,0.1,0.2,0.3,0.4],"labels":false,"tickSize":-6,"title":null}},
"text":{"field":"txt"}}},
{"data":{"name":"arrows"},"transform":[{"filter":"datum.p=='d'"}],
"mark":{"type":"rule","color":"#231f20","strokeWidth":1},
"encoding":{"x":{"field":"T1","type":"quantitative","scale":{"domain":[0,120],"nice":false},"axis":null},"y":{"field":"R1","type":"quantitative","scale":{"domain":[0,0.5],"nice":false},"axis":null},"x2":{"field":"T2"},"y2":{"field":"R2"}}},
{"data":{"name":"arrows"},"transform":[{"filter":"datum.p=='d'"}],
"mark":{"type":"point","shape":"triangle-up","filled":true,"size":28,"color":"#231f20","opacity":1,"angle":-37},
"encoding":{"x":{"field":"T2","type":"quantitative","scale":{"domain":[0,120],"nice":false},"axis":null},"y":{"field":"R2","type":"quantitative","scale":{"domain":[0,0.5],"nice":false},"axis":null}}}
]}
],
"config": {
"view": {"stroke": null},
"font": "Liberation Sans",
"axis": {"domainColor": "#231f20", "tickColor": "#231f20", "labelColor": "#231f20", "titleColor": "#231f20", "labelFont": "Liberation Sans", "titleFont": "Liberation Sans", "labelFontSize": 28, "titleFontSize": 27, "titleFontWeight": "normal", "grid": false, "domainWidth": 1, "tickWidth": 1}
}
}
